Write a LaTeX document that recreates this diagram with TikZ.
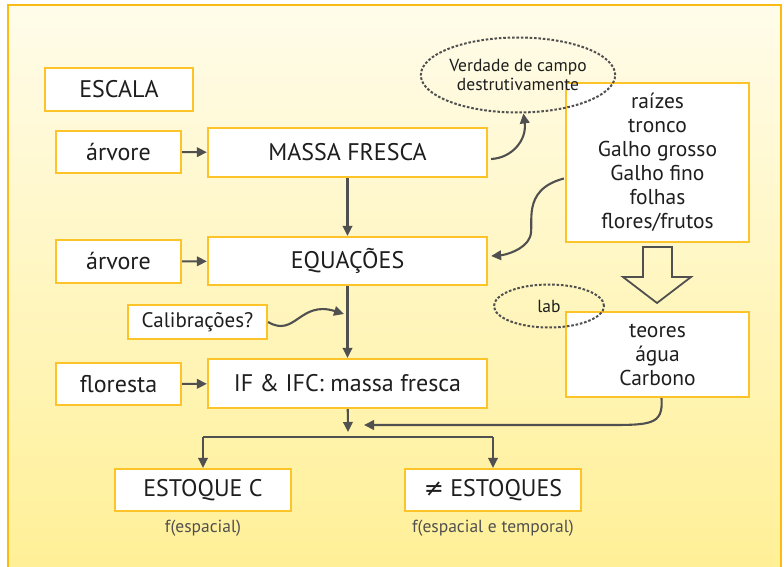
\documentclass[tikz,border=0pt]{standalone}
\usepackage{fontspec}
\setmainfont{PT Sans}
\newfontfamily\symfont{DejaVu Sans}
\usetikzlibrary{arrows.meta,calc,shapes.geometric}
\definecolor{boxline}{RGB}{252,196,40}
\definecolor{frameline}{RGB}{250,188,20}
\definecolor{bgtop}{RGB}{255,252,234}
\definecolor{bgbot}{RGB}{255,240,150}
\definecolor{linkgray}{RGB}{80,80,80}
\definecolor{txt}{RGB}{30,30,30}

\begin{document}
\begin{tikzpicture}[x=1pt,y=-1pt,
	box/.style={draw=boxline,line width=2.2pt,fill=white,inner sep=0pt,text=txt,font=\fontsize{24}{28}\selectfont},
	list/.style={box,align=center,font=\fontsize{21.5}{24}\selectfont},
	note/.style={ellipse,draw=linkgray,line width=2pt,dash pattern=on 2.6pt off 1.8pt,inner sep=0pt,text=txt,font=\fontsize{17.5}{19}\selectfont,align=center},
	link/.style={draw=linkgray,line width=2.1pt,-{Triangle[length=10pt,width=9.5pt]}},
	small/.style={text=linkgray,font=\fontsize{17.5}{19}\selectfont}]
	\useasboundingbox (0,0) rectangle (784,567);
	\shade [top color=bgtop,bottom color=bgbot] (8,5) rectangle (781,572);
	\draw [frameline,line width=2.4pt] (8,572) -- (8,5) -- (781,5) -- (781,572);

	% left column
	\node [box,minimum width=148,minimum height=43] (escala) at (119,89.5) {ESCALA};
	\node [box,minimum width=125,minimum height=42] (arvore1) at (118.5,152) {árvore};
	\node [box,minimum width=125,minimum height=43] (arvore2) at (118.5,261.5) {árvore};
	\node [box,minimum width=139,minimum height=34,font=\fontsize{21}{24}\selectfont] (calib) at (197.5,322) {Calibrações?};
	\node [box,minimum width=125,minimum height=42] (floresta) at (118.5,384) {floresta};

	% centre column
	\node [box,minimum width=279,minimum height=49] (massa) at (347.5,152.5) {MASSA FRESCA};
	\node [box,minimum width=279,minimum height=48] (equacoes) at (347.5,261) {EQUAÇÕES};
	\node [box,minimum width=279,minimum height=49] (ifc) at (347.5,383.5) {IF \& IFC: massa fresca};

	% results
	\node [box,minimum width=176,minimum height=42] (estoque) at (203,490) {ESTOQUE C};
	\node [box,minimum width=176,minimum height=42] (estoques) at (493,490) {{\symfont ≠} ESTOQUES};
	\node [small] (fesp) at (203,528) {f(espacial)};
	\node [small] (fesptemp) at (493,528) {f(espacial e temporal)};

	% right column
	\node [list,minimum width=183,minimum height=159] (partes) at (657.5,162.5) {raízes\\tronco\\Galho grosso\\Galho fino\\folhas\\flores/frutos};
	\node [list,minimum width=183,minimum height=85] (teores) at (657.5,354.5) {teores\\água\\Carbono};
	\node [note,minimum width=194,minimum height=75] (verdade) at (518,75) {Verdade de campo\\destrutivamente};
	\node [note,minimum width=110,minimum height=43] (lab) at (549,306) {lab};
	\draw [linkgray,line width=1.8pt] (643,247) -- (672,247) -- (672,277) -- (691,277) -- (657,303) -- (623,277) -- (643,277) -- cycle;

	% connectors
	\coordinate (caltip) at (344,314);
	\coordinate (split) at (348,432);
	\coordinate (bar) at (348,437);
	\coordinate (mixtip) at (364,425);
	\draw [link] (arvore1) -- (massa);
	\draw [link] (arvore2) -- (equacoes);
	\draw [link] (floresta) -- (ifc);
	\draw [link] (massa) -- (equacoes);
	\draw [link] (equacoes) -- (ifc);
	\draw [link] (calib.east) .. controls (295,338) and (300,300) .. (caltip);
	\draw [link] ($(massa.east)+(3,6.5)$) .. controls (512,158) and (527,140) .. (verdade.-82);
	\draw [link] ($(partes.west)+(-1,16)$) .. controls (520,190) and (535,225) .. (530,237) .. controls (525,250) and (505,255) .. ($(equacoes.east)+(3,-5)$);
	\draw [link] ($(teores.south)+(4,0)$) .. controls +(2,28) and +(50,0) .. (600,425) -- (mixtip);
	\draw [link] (ifc) -- (split);
	\draw [linkgray,line width=2.1pt] (estoque.north |- bar) -- (estoques.north |- bar);
	\draw [link] (estoque.north |- bar) -- (estoque.north);
	\draw [link] (estoques.north |- bar) -- (estoques.north);
\end{tikzpicture}
\end{document}
